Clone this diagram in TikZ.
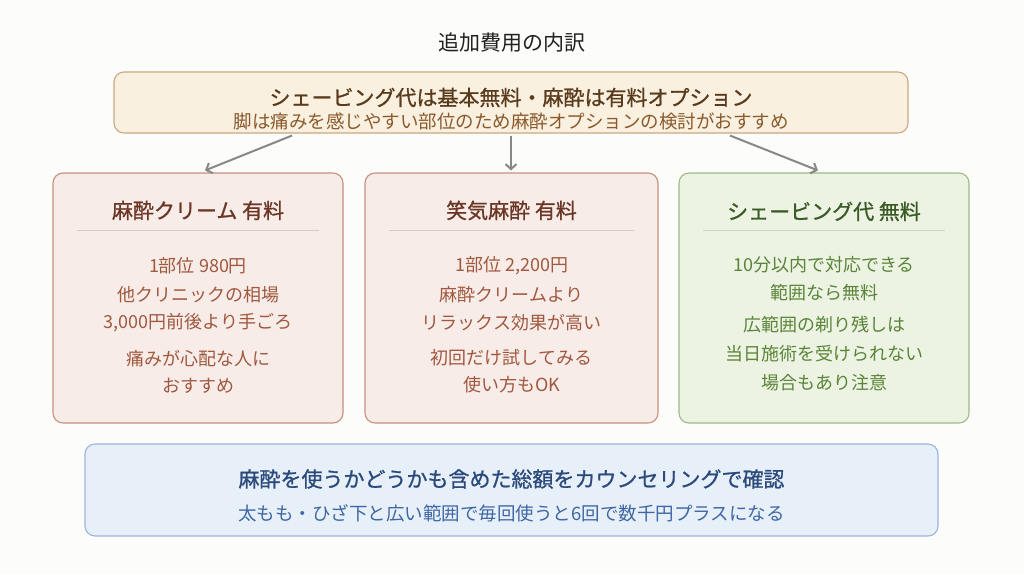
\documentclass[tikz,border=0pt]{standalone}
\usepackage{fontspec}
\setmainfont{Noto Sans CJK JP}[BoldFont={Noto Sans CJK JP}, BoldFeatures={FakeBold=0.9}]
\usetikzlibrary{arrows.meta,calc}
\definecolor{bgwhite}{HTML}{FCFCFA}
\definecolor{titleblack}{HTML}{222222}
\definecolor{creamfill}{HTML}{FAF0DF}
\definecolor{creamline}{HTML}{C9A882}
\definecolor{creamtitle}{HTML}{5A3A1C}
\definecolor{creamtext}{HTML}{8A5A2E}
\definecolor{pinkfill}{HTML}{F8ECE8}
\definecolor{pinkline}{HTML}{C8907E}
\definecolor{pinktitle}{HTML}{6B3626}
\definecolor{pinktext}{HTML}{A0583F}
\definecolor{pinkrule}{HTML}{D8CBC6}
\definecolor{greenfill}{HTML}{EDF3E3}
\definecolor{greenline}{HTML}{9DBA88}
\definecolor{greentitle}{HTML}{3A5A26}
\definecolor{greentext}{HTML}{5A8438}
\definecolor{greenrule}{HTML}{C9D5BF}
\definecolor{bluefill}{HTML}{E7EFF9}
\definecolor{blueline}{HTML}{9CB4DC}
\definecolor{bluetitle}{HTML}{2B4A7C}
\definecolor{bluetext}{HTML}{3F67A3}
\definecolor{arrowgray}{HTML}{888888}

\begin{document}
\begin{tikzpicture}[x=1pt, y=-1pt,
    box/.style={draw, rounded corners=10pt, line width=1.1pt, inner sep=0pt},
    pinkbox/.style={box, fill=pinkfill, draw=pinkline, minimum height=250pt},
    boxtitle/.style={font=\fontsize{21}{25}\selectfont\bfseries, inner sep=0pt},
    body/.style={font=\fontsize{18}{22}\selectfont, inner sep=0pt},
    rule/.style={line width=1.1pt},
    arrow/.style={draw=arrowgray, line width=2pt, -{Straight Barb[length=5pt,width=11pt]}}]
    \fill[bgwhite] (0,0) rectangle (1024,574);
    \useasboundingbox (0,0) rectangle (1024,574);
    \node[font=\fontsize{21}{25}\selectfont, text=titleblack, inner sep=0pt] (head) at (512,43) {追加費用の内訳};

    \node[box, fill=creamfill, draw=creamline, minimum width=794pt, minimum height=61pt] (summary) at (511,102.5) {};
    \node[boxtitle, text=creamtitle] (summary-1) at ($(summary)+(0,-5)$) {シェービング代は基本無料・麻酔は有料オプション};
    \node[body, text=creamtext, font=\fontsize{18.5}{22}\selectfont] (summary-2) at ($(summary)+(0,19)$) {脚は痛みを感じやすい部位のため麻酔オプションの検討がおすすめ};

    \node[pinkbox, minimum width=290pt] (cream) at (198,298) {};
    \node[pinkbox, minimum width=293pt] (gas) at (511.5,298) {};
    \node[box, fill=greenfill, draw=greenline, minimum width=290pt, minimum height=250pt] (shave) at (824,298) {};

    \node[boxtitle, text=pinktitle] (cream-title) at ($(cream.north)+(0,38)$) {麻酔クリーム 有料};
    \draw[rule, pinkrule] ($(cream.north west)+(25,58)$) -- ($(cream.north east)+(-25,58)$);
    \foreach \t/\dy [count=\i] in {{1部位 980円}/93, {他クリニックの相場}/122, {3,000円前後より手ごろ}/150, {痛みが心配な人に}/186, {おすすめ}/213}
        \node[body, text=pinktext] (cream-\i) at ($(cream.north)+(0,\dy)$) {\t};

    \node[boxtitle, text=pinktitle] (gas-title) at ($(gas.north)+(0,38)$) {笑気麻酔 有料};
    \draw[rule, pinkrule] ($(gas.north west)+(25,58)$) -- ($(gas.north east)+(-25,58)$);
    \foreach \t/\dy [count=\i] in {{1部位 2,200円}/93, {麻酔クリームより}/122, {リラックス効果が高い}/150, {初回だけ試してみる}/185, {使い方もOK}/212}
        \node[body, text=pinktext] (gas-\i) at ($(gas.north)+(0,\dy)$) {\t};

    \node[boxtitle, text=greentitle] (shave-title) at ($(shave.north)+(0,39)$) {シェービング代 無料};
    \draw[rule, greenrule] ($(shave.north west)+(25,58)$) -- ($(shave.north east)+(-25,58)$);
    \foreach \t/\dy [count=\i] in {{10分以内で対応できる}/92, {範囲なら無料}/120, {広範囲の剃り残しは}/152, {当日施術を受けられない}/181, {場合もあり注意}/210}
        \node[body, text=greentext] (shave-\i) at ($(shave.north)+(0,\dy)$) {\t};

    \draw[arrow] ([xshift=-219pt,yshift=-2pt]summary.south) -- ([xshift=7pt,yshift=2pt]cream.north);
    \draw[arrow] ([yshift=-2pt]summary.south) -- ([xshift=-0.5pt,yshift=2pt]gas.north);
    \draw[arrow] ([xshift=219pt,yshift=-2pt]summary.south) -- ([xshift=-6pt,yshift=2pt]shave.north);

    \node[box, fill=bluefill, draw=blueline, minimum width=853pt, minimum height=92pt] (note) at (511.5,490) {};
    \node[boxtitle, text=bluetitle] (note-1) at ($(note)+(0,-11)$) {麻酔を使うかどうかも含めた総額をカウンセリングで確認};
    \node[body, text=bluetext, font=\fontsize{18.5}{22}\selectfont] (note-2) at ($(note)+(0,23)$) {太もも・ひざ下と広い範囲で毎回使うと6回で数千円プラスになる};
\end{tikzpicture}
\end{document}
